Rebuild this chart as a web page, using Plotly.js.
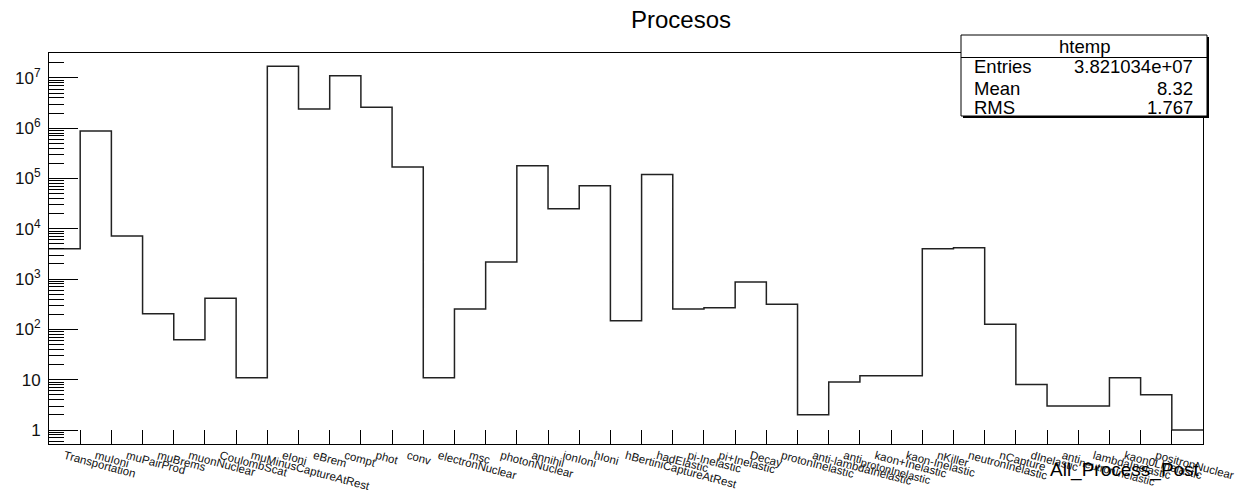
<!DOCTYPE html>
<html>
<head>
<meta charset="utf-8">
<script src="https://cdn.plot.ly/plotly-3.0.1.min.js"></script>
<style>html,body{margin:0;padding:0;background:#fff;}#chart{width:1244px;height:494px;}</style>
</head>
<body>
<div id="chart"></div>
<script>
// ---- data ----
const processNames = [
  'Transportation','muIoni','muPairProd','muBrems','muonNuclear','CoulombScat',
  'muMinusCaptureAtRest','eIoni','eBrem','compt','phot','conv','electronNuclear',
  'msc','photonNuclear','annihil','ionIoni','hIoni','hBertiniCaptureAtRest',
  'hadElastic','pi-Inelastic','pi+Inelastic','Decay','protonInelastic',
  'anti-lambdaInelastic','anti<sub><span style="font-size:11px">protonInelastic</span></sub>','kaon+Inelastic','kaon-Inelastic',
  'nKiller','neutronInelastic','nCapture','dInelastic','anti<sub><span style="font-size:11px">neutronInelastic</span></sub>',
  'lambdaInelastic','kaon0LInelastic','positronNuclear','kaon0SInelastic'
];
const processCounts = [
  4000, 880000, 7200, 204, 62, 415,
  11, 17000000, 2400000, 11000000, 2600000, 170000, 11,
  255, 2200, 180000, 25000, 72000, 149,
  120000, 255, 270, 880, 315,
  2, 9, 12, 12,
  4000, 4200, 126, 8, 3,
  3, 11, 5, 1
];
const yTickVals = [1, 10, 100, 1000, 10000, 100000, 1000000, 10000000];
const yTickText = ['1', '10', '10<sup>2</sup>', '10<sup>3</sup>', '10<sup>4</sup>', '10<sup>5</sup>', '10<sup>6</sup>', '10<sup>7</sup>'];
const chartTitle = 'Procesos';
const xAxisTitle = 'All_Process_Post';
const statsName = 'htemp';
const statsLabels = ['Entries', 'Mean', 'RMS'];
const statsValues = ['3.821034e+07', '8.32', '1.767'];

// ---- derived ----
const nBins = processCounts.length;
const edges = [];
for (let i = 0; i <= nBins; i++) edges.push(i);
const stepY = processCounts.concat([processCounts[nBins - 1]]);
const centers = processCounts.map((_, i) => i + 0.5);
const innerEdges = edges.slice(1, nBins);
const yMinor = [];
for (let k = -1; k <= 7; k++) for (let m = 2; m <= 9; m++) yMinor.push(m * Math.pow(10, k));

// pixel -> paper helpers (plot area: l=49, t=53, w=1154, h=391)
const L = 49, T = 53, W = 1154, H = 391;
const px = x => (x - L) / W;
const py = y => (T + H - y) / H;

const FONT = '"Liberation Sans", Arial, Helvetica, sans-serif';

const trace = {
  type: 'scatter', mode: 'lines',
  x: edges, y: stepY,
  line: {shape: 'hv', color: '#222', width: 1.5},
  hoverinfo: 'skip', showlegend: false
};

const shapes = [
  {type: 'rect', xref: 'paper', yref: 'paper', x0: px(963), x1: px(1209), y0: py(118), y1: py(37),
   fillcolor: '#000', line: {width: 0}, layer: 'above'},
  {type: 'rect', xref: 'paper', yref: 'paper', x0: px(961), x1: px(1207), y0: py(116), y1: py(35),
   fillcolor: '#fff', line: {color: '#000', width: 1}, layer: 'above'},
  {type: 'line', xref: 'paper', yref: 'paper', x0: px(961), x1: px(1207), y0: py(57.5), y1: py(57.5),
   line: {color: '#000', width: 1}, layer: 'above'}
];

const annotations = [
  {text: statsName, xref: 'paper', yref: 'paper', x: px(1084), y: py(46), xanchor: 'center', yanchor: 'middle',
   showarrow: false, font: {family: FONT, size: 18.5, color: '#000'}},
  {text: xAxisTitle, xref: 'paper', yref: 'paper', x: px(1202), y: py(470), xanchor: 'right', yanchor: 'middle',
   showarrow: false, font: {family: FONT, size: 19, color: '#000'}}
];
const rowY = [67, 88, 107];
statsLabels.forEach((lab, i) => {
  annotations.push({text: lab, xref: 'paper', yref: 'paper', x: px(972), y: py(rowY[i]), xanchor: 'left', yanchor: 'middle',
    showarrow: false, font: {family: FONT, size: 18.5, color: '#000'}});
  annotations.push({text: statsValues[i], xref: 'paper', yref: 'paper', x: px(1195), y: py(rowY[i]), xanchor: 'right', yanchor: 'middle',
    showarrow: false, font: {family: FONT, size: 18.5, color: '#000'}});
});

const layout = {
  width: 1244, height: 494,
  margin: {l: L, r: 1244 - L - W, t: T, b: 494 - T - H, pad: 0},
  paper_bgcolor: '#fff', plot_bgcolor: '#fff',
  font: {family: FONT, color: '#000'},
  title: {text: chartTitle, x: 681 / 1244, xref: 'container', xanchor: 'center',
          y: 1 - 20 / 494, yref: 'container', yanchor: 'middle', font: {family: FONT, size: 24, color: '#000'}},
  xaxis: {
    range: [0, nBins], tickmode: 'array', tickvals: centers, ticktext: processNames,
    tickangle: 15, ticks: '', showline: true, mirror: true, linecolor: '#000', linewidth: 1,
    showgrid: false, zeroline: false, tickfont: {family: FONT, size: 11.5, color: '#111'},
    ticklabelstandoff: 0,
    minor: {tickmode: 'array', tickvals: innerEdges, ticks: 'inside', ticklen: 14, tickcolor: '#000', tickwidth: 1, showgrid: false},
    fixedrange: true
  },
  yaxis: {
    type: 'log', range: [-0.278, 7.495], tickmode: 'array', tickvals: yTickVals, ticktext: yTickText,
    ticks: 'inside', ticklen: 29, tickcolor: '#000', tickwidth: 1,
    showline: true, mirror: true, linecolor: '#000', linewidth: 1,
    showgrid: false, zeroline: false, tickfont: {family: FONT, size: 17, color: '#111'},
    ticklabelstandoff: 4,
    minor: {tickmode: 'array', tickvals: yMinor, ticks: 'inside', ticklen: 15, tickcolor: '#000', tickwidth: 1, showgrid: false},
    fixedrange: true
  },
  shapes: shapes,
  annotations: annotations,
  showlegend: false
};

Plotly.newPlot('chart', [trace], layout, {displayModeBar: false, staticPlot: true});
</script>
</body>
</html>
